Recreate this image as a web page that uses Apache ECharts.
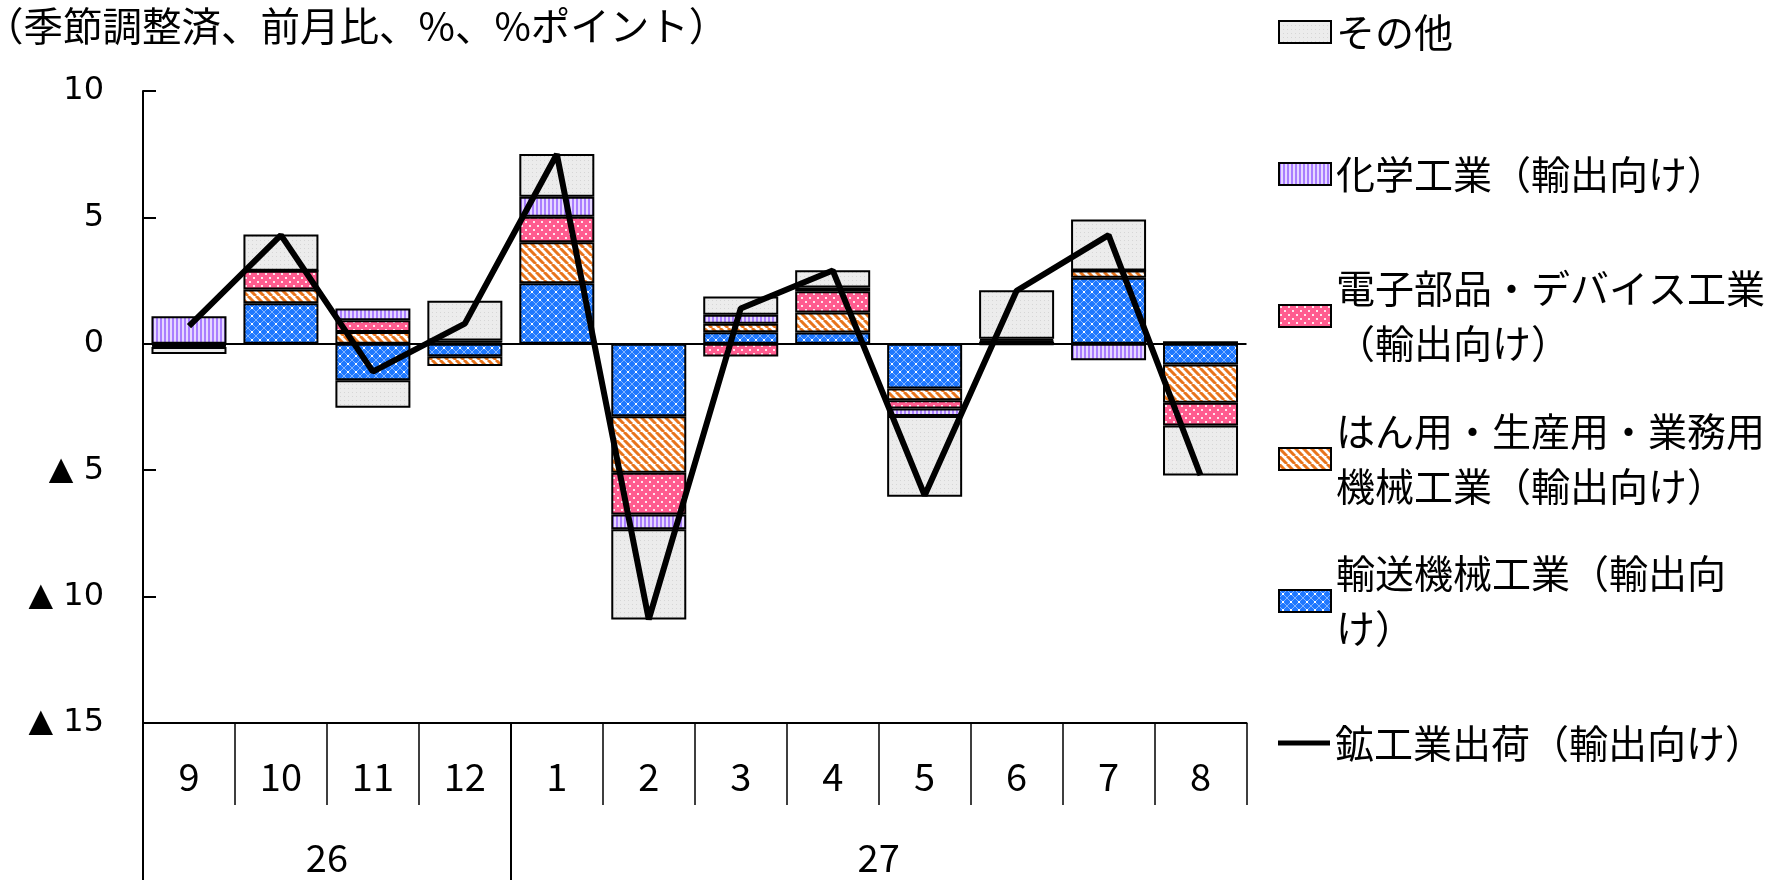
<!DOCTYPE html>
<html>
<head>
<meta charset="utf-8">
<script src="https://cdn.jsdelivr.net/npm/echarts@6/dist/echarts.min.js"></script>
<style>
  html, body { margin: 0; background: #fff; }
  #chart { width: 1773px; height: 880px; }
</style>
</head>
<body>
<div id="chart"></div>
<script>
// 月（横軸）と年
const months = ['9', '10', '11', '12', '1', '2', '3', '4', '5', '6', '7', '8'];
const years = ['', '', '26', '', '', '', '', '', '27', '', '', '', ''];

// 寄与度（%ポイント）
const transport = [-0.04, 1.6, -1.44, -0.49, 2.4, -2.87, 0.46, 0.45, -1.77, -0.03, 2.61, -0.82];
const generalMachinery = [-0.04, 0.55, 0.47, -0.39, 1.62, -2.23, 0.33, 0.79, -0.46, 0.08, 0.29, -1.51];
const electronics = [-0.05, 0.74, 0.46, 0.05, 1.01, -1.65, -0.5, 0.84, -0.33, 0.05, 0, -0.9];
const chemical = [1.09, 0, 0.47, 0.08, 0.79, -0.59, 0.36, 0.15, -0.3, 0.07, -0.65, 0.1];
const others = [-0.27, 1.43, -1.09, 1.57, 1.69, -3.57, 0.72, 0.68, -3.19, 1.92, 2.02, -1.98];

// 鉱工業出荷（輸出向け）前月比
const shipments = [0.7, 4.3, -1.1, 0.8, 7.5, -10.9, 1.4, 2.9, -6.0, 2.1, 4.3, -5.2];

const yTicks = { min: -15, max: 10, interval: 5 };

function pattern(w, h, draw) {
  const c = document.createElement('canvas');
  c.width = w;
  c.height = h;
  draw(c.getContext('2d'), w, h);
  return { image: c, repeat: 'repeat' };
}

const blueFill = pattern(8, 8, (ctx, w, h) => {
  ctx.fillStyle = '#1f78ff';
  ctx.fillRect(0, 0, w, h);
  ctx.strokeStyle = 'rgba(255,255,255,0.45)';
  ctx.lineWidth = 1;
  ctx.beginPath();
  ctx.moveTo(0, 0); ctx.lineTo(8, 8);
  ctx.moveTo(8, 0); ctx.lineTo(0, 8);
  ctx.stroke();
  ctx.fillStyle = '#ffffff';
  ctx.fillRect(3, 3, 2, 2);
});
const orangeFill = pattern(8, 8, (ctx, w, h) => {
  ctx.fillStyle = '#ffffff';
  ctx.fillRect(0, 0, w, h);
  ctx.strokeStyle = '#e8741c';
  ctx.lineWidth = 3;
  ctx.beginPath();
  [-8, 0, 8].forEach(k => { ctx.moveTo(k, 0); ctx.lineTo(k + 8, 8); });
  ctx.stroke();
});
const pinkFill = pattern(8, 8, (ctx, w, h) => {
  ctx.fillStyle = '#ff5c8f';
  ctx.fillRect(0, 0, w, h);
  ctx.fillStyle = 'rgba(255,255,255,0.85)';
  ctx.fillRect(1, 1, 2, 2);
  ctx.fillRect(5, 5, 2, 2);
});
const purpleFill = pattern(4, 4, (ctx, w, h) => {
  ctx.fillStyle = '#e6d8ff';
  ctx.fillRect(0, 0, w, h);
  ctx.fillStyle = '#a97eff';
  ctx.fillRect(0, 0, 2, h);
});
const grayFill = pattern(4, 4, (ctx, w, h) => {
  ctx.fillStyle = '#ececec';
  ctx.fillRect(0, 0, w, h);
  ctx.fillStyle = '#d6d6d6';
  ctx.fillRect(0, 0, 1, 1);
});

const jpFont = '"Noto Sans CJK JP", sans-serif';
const numFont = '"DejaVu Sans", sans-serif';

function barSeries(name, data, fill) {
  return {
    name: name,
    type: 'bar',
    stack: 'total',
    barWidth: 75,
    data: data,
    itemStyle: { color: fill, borderColor: '#000', borderWidth: 2 }
  };
}

function legendItem(name, top, text, isLine) {
  const item = {
    left: 1278,
    top: top,
    padding: 0,
    itemWidth: 52,
    itemHeight: isLine ? 5 : 22,
    selectedMode: false,
    data: [{ name: name, icon: 'rect' }],
    formatter: () => text,
    textStyle: {
      fontFamily: jpFont,
      fontSize: 39,
      lineHeight: 55,
      color: '#000',
      padding: text.indexOf('\n') >= 0 ? [55, 0, 0, 0] : 0
    }
  };
  if (isLine) {
    item.itemStyle = { color: '#000', borderWidth: 0 };
  } else {
    item.itemStyle = { borderColor: '#000', borderWidth: 2 };
  }
  return item;
}

const names = {
  transport: '輸送機械工業（輸出向け）',
  general: 'はん用・生産用・業務用機械工業（輸出向け）',
  electronics: '電子部品・デバイス工業（輸出向け）',
  chemical: '化学工業（輸出向け）',
  others: 'その他',
  shipments: '鉱工業出荷（輸出向け）'
};

const chart = echarts.init(document.getElementById('chart'));
chart.setOption({
  animation: false,
  backgroundColor: '#fff',
  title: {
    text: '（季節調整済、前月比、%、%ポイント）',
    left: -16,
    top: 0,
    padding: 0,
    textStyle: { fontFamily: jpFont, fontSize: 39.5, fontWeight: 'normal', lineHeight: 52, color: '#000' }
  },
  legend: [
    legendItem(names.others, 4.5, 'その他'),
    legendItem(names.chemical, 146.5, '化学工業（輸出向け）'),
    legendItem(names.electronics, 233.5, '電子部品・デバイス工業\n（輸出向け）'),
    legendItem(names.general, 376.5, 'はん用・生産用・業務用\n機械工業（輸出向け）'),
    legendItem(names.transport, 518.5, '輸送機械工業（輸出向\nけ）'),
    legendItem(names.shipments, 715.5, '鉱工業出荷（輸出向け）', true)
  ],
  grid: { left: 143, right: 526.5, top: 91, bottom: 157, containLabel: false },
  xAxis: [
    {
      type: 'category',
      data: months,
      position: 'bottom',
      axisLine: { onZero: false, lineStyle: { color: '#000', width: 2 } },
      axisTick: { show: true, length: 82, lineStyle: { color: '#000', width: 1.5 } },
      axisLabel: { margin: 35, color: '#000', fontSize: 38, fontFamily: jpFont }
    },
    {
      type: 'category',
      data: years,
      position: 'bottom',
      boundaryGap: false,
      axisLine: { show: false, onZero: false },
      axisTick: { show: true, length: 157, interval: (i) => i === 0 || i === 4, lineStyle: { color: '#000', width: 2 } },
      axisLabel: { interval: 0, margin: 116, color: '#000', fontSize: 38, fontFamily: jpFont }
    }
  ],
  yAxis: {
    type: 'value',
    min: yTicks.min,
    max: yTicks.max,
    interval: yTicks.interval,
    axisLine: { show: true, lineStyle: { color: '#000', width: 2 } },
    axisTick: { show: true, inside: true, length: 13, lineStyle: { color: '#000', width: 2 } },
    splitLine: { show: false },
    axisLabel: {
      margin: 39,
      color: '#000',
      fontSize: 32,
      fontFamily: numFont,
      formatter: (v) => (v < 0 ? '▲ ' + (-v) : String(v))
    }
  },
  series: [
    barSeries(names.transport, transport, blueFill),
    barSeries(names.general, generalMachinery, orangeFill),
    barSeries(names.electronics, electronics, pinkFill),
    barSeries(names.chemical, chemical, purpleFill),
    barSeries(names.others, others, grayFill),
    {
      name: names.shipments,
      type: 'line',
      data: shipments,
      symbol: 'none',
      z: 5,
      lineStyle: { color: '#000', width: 6 },
      itemStyle: { color: '#000' },
      markLine: {
        silent: true,
        symbol: 'none',
        label: { show: false },
        lineStyle: { color: '#000', width: 2, type: 'solid' },
        data: [{ yAxis: 0 }]
      }
    }
  ]
});
</script>
</body>
</html>
